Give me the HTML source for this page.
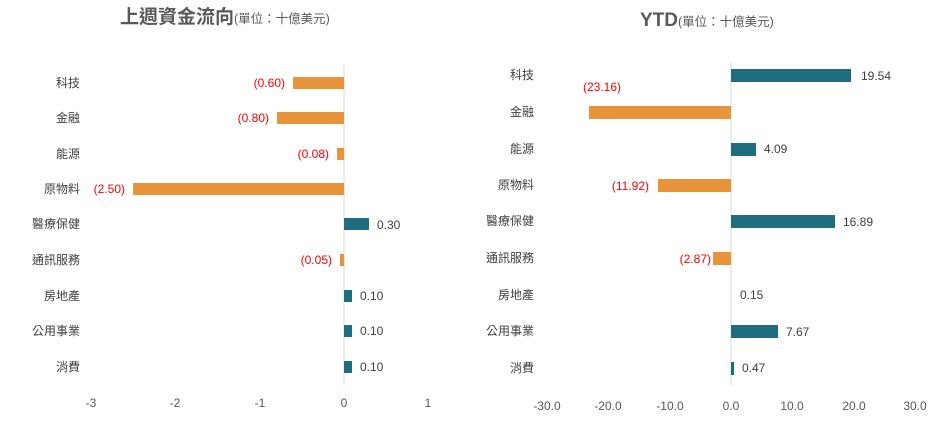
<!DOCTYPE html>
<html><head><meta charset="utf-8"><style>
body{margin:0;background:#fff;}
text{font-family:"Liberation Sans","Noto Sans CJK TC",sans-serif;}
</style></head><body>
<svg width="952" height="429" viewBox="0 0 952 429" xmlns="http://www.w3.org/2000/svg">
<rect width="952" height="429" fill="#fff"/>
<text x="120" y="23" font-size="19" font-weight="bold" fill="#595959">上週資金流向<tspan font-size="12.5" font-weight="normal">(單位：十億美元)</tspan></text>
<text x="640" y="26" font-size="19" font-weight="bold" fill="#595959">YTD<tspan font-size="12.5" font-weight="normal">(單位：十億美元)</tspan></text>

<line x1="344" y1="65" x2="344" y2="385" stroke="#d9d9d9" stroke-width="1"/>
<g font-size="12" fill="#404040" text-anchor="end">
<text x="80" y="87">科技</text><text x="80" y="122">金融</text><text x="80" y="158">能源</text>
<text x="80" y="193">原物料</text><text x="80" y="228">醫療保健</text><text x="80" y="264">通訊服務</text>
<text x="80" y="300">房地產</text><text x="80" y="335">公用事業</text><text x="80" y="371">消費</text>
</g>
<g fill="#E8943A">
<rect x="293" y="77" width="51" height="12"/>
<rect x="277" y="112" width="67" height="12"/>
<rect x="337" y="148" width="7" height="12"/>
<rect x="133" y="183" width="211" height="12"/>
<rect x="340" y="254" width="4" height="12"/>
</g>
<g fill="#1F6E80">
<rect x="344" y="218" width="25" height="12"/>
<rect x="344" y="290" width="8" height="12"/>
<rect x="344" y="325" width="8" height="12"/>
<rect x="344" y="361" width="8" height="12"/>
</g>
<g font-size="12" fill="#FF0000" text-anchor="end">
<text x="285" y="87">(0.60)</text><text x="269" y="122">(0.80)</text><text x="329" y="158">(0.08)</text>
<text x="125" y="193">(2.50)</text><text x="332" y="264">(0.05)</text>
</g>
<g font-size="12" fill="#404040">
<text x="377" y="229">0.30</text><text x="360" y="300">0.10</text><text x="360" y="335">0.10</text><text x="360" y="371">0.10</text>
</g>
<g font-size="12" fill="#595959" text-anchor="middle">
<text x="91" y="407">-3</text><text x="175" y="407">-2</text><text x="260" y="407">-1</text><text x="344" y="407">0</text><text x="428" y="407">1</text>
</g>

<line x1="731" y1="62" x2="731" y2="385" stroke="#d9d9d9" stroke-width="1"/>
<g font-size="12" fill="#404040" text-anchor="end">
<text x="534" y="79">科技</text><text x="534" y="116">金融</text><text x="534" y="153">能源</text>
<text x="534" y="189">原物料</text><text x="534" y="225">醫療保健</text><text x="534" y="262">通訊服務</text>
<text x="534" y="299">房地產</text><text x="534" y="335">公用事業</text><text x="534" y="372">消費</text>
</g>
<g fill="#1F6E80">
<rect x="731" y="69" width="120" height="13"/>
<rect x="731" y="143" width="25" height="13"/>
<rect x="731" y="215" width="104" height="13"/>
<rect x="731" y="325" width="47" height="13"/>
<rect x="731" y="362" width="3" height="13"/>
</g>
<g fill="#E8943A">
<rect x="589" y="106" width="142" height="13"/>
<rect x="658" y="179" width="73" height="13"/>
<rect x="713" y="252" width="18" height="13"/>
</g>
<g font-size="12" fill="#FF0000" text-anchor="end">
<text x="621" y="91">(23.16)</text><text x="649" y="190">(11.92)</text><text x="711" y="263">(2.87)</text>
</g>
<g font-size="12" fill="#404040">
<text x="861" y="80">19.54</text><text x="764" y="153">4.09</text><text x="843" y="226">16.89</text>
<text x="740" y="299">0.15</text><text x="786" y="336">7.67</text><text x="742" y="372">0.47</text>
</g>
<g font-size="12" fill="#595959" text-anchor="middle">
<text x="547" y="410">-30.0</text><text x="608" y="410">-20.0</text><text x="670" y="410">-10.0</text>
<text x="731" y="410">0.0</text><text x="792" y="410">10.0</text><text x="854" y="410">20.0</text><text x="915" y="410">30.0</text>
</g>
</svg>
</body></html>
